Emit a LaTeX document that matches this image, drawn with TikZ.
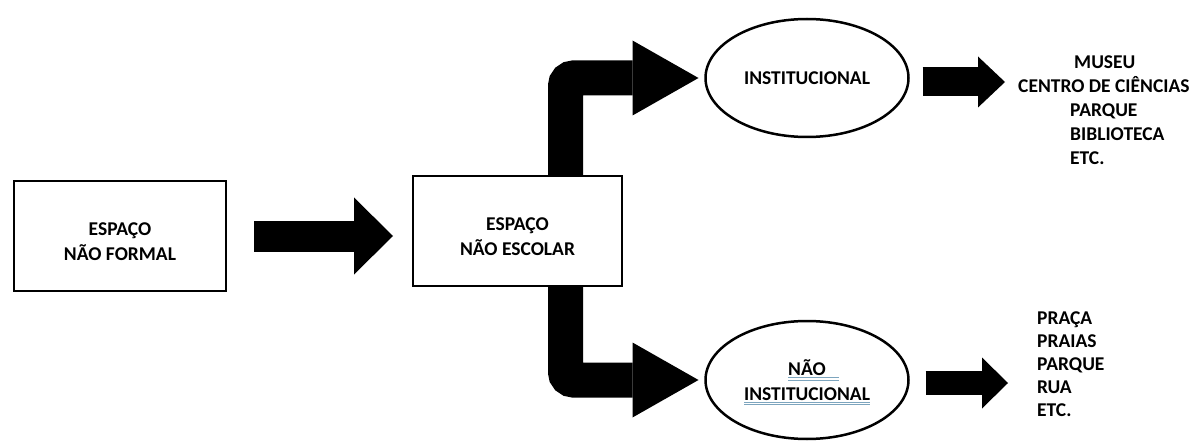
\documentclass[tikz,border=0pt]{standalone}
\usepackage{fontspec}
\setmainfont{Carlito}
\usepackage{tikz}
\usetikzlibrary{arrows.meta}
\usetikzlibrary{shapes.geometric}
\definecolor{spellblue}{RGB}{125,165,190}
\newcommand{\spellul}[2][0pt]{\setbox0\hbox{#2}%
  \rlap{\color{spellblue}\rule[-2.8pt]{\dimexpr\wd0+#1\relax}{1pt}}%
  \rlap{\color{spellblue}\rule[-5.1pt]{\dimexpr\wd0+#1\relax}{1pt}}%
  \box0}

\begin{document}
\begin{tikzpicture}[x=1pt,y=-1pt,font=\fontsize{19.5}{24.5}\selectfont\bfseries,
    box node/.style={rectangle,draw,line width=2.5pt,align=center,text height=49pt,inner sep=0pt,outer sep=0pt},
    oval node/.style={ellipse,draw,line width=2.5pt,align=center,minimum width=203pt,minimum height=118pt,inner sep=0pt,outer sep=0pt},
    list node/.style={align=left,inner sep=0pt,anchor=north west},
    block arrow/.style={draw=black,line width=#1}]
  \useasboundingbox (0,0) rectangle (1195,441);
  \node[box node,minimum width=212pt,minimum height=110pt] (formal) at (120,236) {ESPAÇO\\NÃO FORMAL};
  \node[box node,minimum width=209pt,minimum height=110pt] (escolar) at (517.5,231) {ESPAÇO\\NÃO ESCOLAR};
  \node[oval node] (inst) at (807,78) {INSTITUCIONAL};
  \node[oval node,text depth=0pt] (naoinst) at (807,380) {\spellul[13pt]{NÃO}\\\spellul{INSTITUCIONAL}};
  \node[list node,font=\fontsize{19.5}{24}\selectfont\bfseries] (museus) at (1070,55.5) {\hspace*{4pt}MUSEU\\\hspace*{-52pt}CENTRO DE CIÊNCIAS\\PARQUE\\BIBLIOTECA\\ETC.};
  \node[list node,font=\fontsize{19.5}{23}\selectfont\bfseries] (pracas) at (1037,312) {PRAÇA\\PRAIAS\\PARQUE\\RUA\\ETC.};
  \coordinate (tip1) at (1005,82);
  \coordinate (tip2) at (1008,383);
  % setas
  \draw[block arrow=31pt,-{Triangle[length=39pt,width=77pt,line width=0pt]},shorten <=28pt,shorten >=20pt] (formal.east) -- (formal.east -| escolar.west);
  \draw[block arrow=35pt,rounded corners=8pt,-{Triangle[length=66pt,width=75pt,line width=0pt]},shorten >=7pt] ([xshift=48pt]escolar.north) |- (inst.west);
  \draw[block arrow=35pt,rounded corners=8pt,-{Triangle[length=66pt,width=75pt,line width=0pt]},shorten >=7pt] ([xshift=48pt]escolar.south) |- (naoinst.west);
  \draw[block arrow=29pt,-{Triangle[length=27pt,width=51pt,line width=0pt]},shorten <=14pt] (inst.east |- tip1) -- (tip1);
  \draw[block arrow=24pt,-{Triangle[length=26pt,width=51pt,line width=0pt]},shorten <=17pt] (naoinst.east |- tip2) -- (tip2);
\end{tikzpicture}
\end{document}
